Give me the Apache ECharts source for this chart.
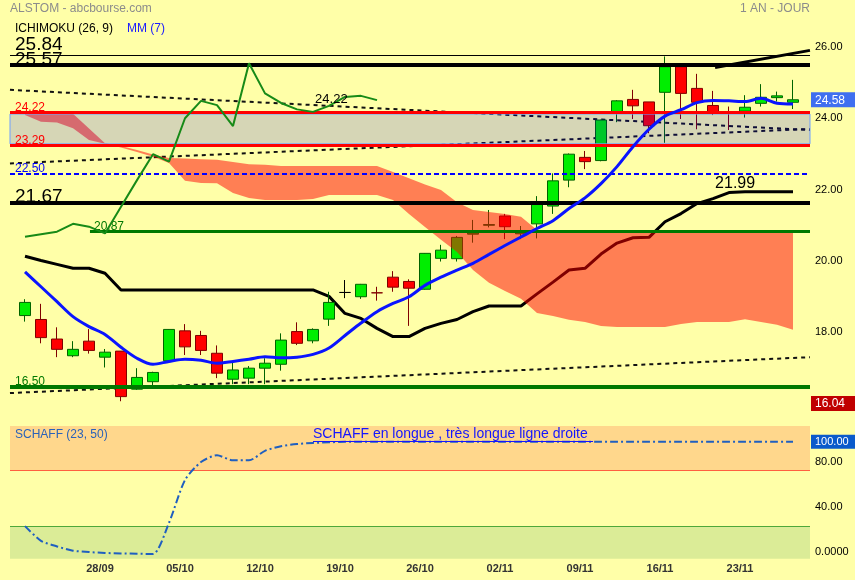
<!DOCTYPE html>
<html>
<head>
<meta charset="utf-8">
<script src="https://cdn.jsdelivr.net/npm/echarts@6/dist/echarts.min.js"></script>
<style>html,body{margin:0;padding:0;background:#ffffa8}#c{width:855px;height:580px}</style>
</head>
<body>
<div id="c"></div>
<script>
// ---------- data ----------
const dates = ['28/09','05/10','12/10','19/10','26/10','02/11','09/11','16/11','23/11'];
const dateIdx = [5,10,15,20,25,30,35,40,45];

const opens  = [18.51,18.40,17.85,17.38,17.79,17.34,17.51,16.44,16.65,17.24, 18.08,17.95,17.45,16.72,16.75,17.03,17.14,18.06,17.80,18.41, 19.16,19.04,19.15,19.59,19.47,19.25,20.12,20.11,20.80,21.05, 21.31,20.81,21.09,21.59,22.32,22.96,22.87,24.24,24.59,24.52, 24.79,25.51,24.90,24.42,24.22,24.26,24.48,24.64,24.51];
const closes = [18.88,17.89,17.56,17.56,17.53,17.48,16.23,16.77,16.91,18.12, 17.63,17.53,16.89,16.98,17.03,17.17,17.82,17.73,18.12,18.88, 19.16,19.39,19.15,19.31,19.28,20.26,20.35,20.71,20.83,21.07, 21.01,20.84,21.64,22.30,23.05,22.84,24.01,24.55,24.41,23.85, 25.51,24.76,24.51,24.24,24.22,24.37,24.65,24.69,24.58];
const lows   = [18.34,17.73,17.34,17.34,17.44,17.05,16.10,16.42,16.46,17.22, 17.40,17.40,16.75,16.58,16.58,16.58,16.96,17.68,17.73,18.22, 19.00,18.98,18.93,19.18,18.22,19.24,20.03,20.03,20.56,20.99, 20.66,20.66,20.68,21.37,22.12,22.63,22.85,23.95,24.04,23.64, 23.37,24.04,23.75,24.15,23.73,24.08,24.39,24.53,24.32];
const highs  = [18.97,18.84,18.18,17.79,18.13,17.57,17.51,17.03,16.93,18.13, 18.27,18.08,17.67,17.21,17.09,17.31,18.01,18.32,18.15,19.18, 19.51,19.40,19.32,19.76,19.53,20.27,20.50,20.75,21.20,21.48, 21.37,21.03,21.87,22.51,23.07,23.14,24.02,24.57,24.86,24.52, 25.80,25.52,25.31,24.83,24.39,24.71,25.02,24.81,25.14];

const mm7 = [19.74,19.32,18.90,18.48,18.20,17.98,17.62,17.31,17.14,17.22, 17.28,17.25,17.17,17.22,17.28,17.35,17.32,17.34,17.42,17.60, 17.95,18.30,18.62,18.85,19.04,19.36,19.59,19.79,19.98,20.23, 20.48,20.72,20.96,21.18,21.52,21.82,22.22,22.70,23.26,23.75, 24.12,24.30,24.50,24.56,24.55,24.53,24.62,24.48,24.46];
const kijun = [20.18,20.06,19.95,19.84,19.84,19.70,19.23,19.23,19.23,19.23, 19.23,19.23,19.23,19.23,19.23,19.23,19.23,19.23,19.23,19.05, 18.57,18.43,18.15,17.92,17.92,18.15,18.29,18.40,18.62,18.78, 18.78,18.78,19.12,19.45,19.79,19.84,20.24,20.55,20.70,20.71, 21.15,21.38,21.66,21.80,21.97,21.99,21.99,21.99,21.99];
const chikou = [20.73,20.80,20.87,21.09,21.01,20.82,21.57,22.32,23.05,22.84, 24.06,24.55,24.43,23.84,25.61,24.76,24.49,24.31,24.24,24.41, 24.66,24.69,24.57];
const kumoTop = [24.19,24.19,24.19,24.19,23.77,23.36,23.28,23.17,23.04,22.94, 22.93,22.91,22.89,22.83,22.77,22.75,22.72,22.72,22.72,22.72, 22.72,22.72,22.72,22.55,22.37,22.20,22.04,21.70,21.48,21.42, 21.37,21.29,20.92,20.86,20.86,20.86,20.86,20.86,20.86,20.86, 20.86,20.86,20.86,20.86,20.86,20.86,20.86,20.86,20.86];
const kumoBottom = [24.15,23.96,23.94,23.78,23.45,23.34,23.24,23.11,22.98,22.80, 22.30,22.24,22.23,21.96,21.82,21.76,21.76,21.76,21.79,21.90, 21.90,21.90,21.90,21.76,21.37,21.00,20.64,20.30,19.79,19.43, 19.20,18.98,18.58,18.50,18.39,18.33,18.22,18.19,18.19,18.19, 18.19,18.27,18.33,18.33,18.33,18.41,18.33,18.25,18.11];

const schaff = [25,12,7,3.2,2,1.2,0.8,0.5,0.3,28, 66,82,88,83.5,83.5,92,96,98,99,99.5, 100,100,100,100,100,100,100,100,100,100, 100,100,100,100,100,100,100,100,100,100, 100,100,100,100,100,100,100,100,100];

const trendA = [[-0.94,24.86],[49.06,23.73]];
const trendB = [[-0.94,22.79],[49.06,23.76]];
const trendC = [[-0.94,16.33],[49.06,17.34]];
const trendD = [[43.13,25.49],[49.06,25.97]];

const levels = [25.84, 25.57, 24.22, 23.29, 22.50, 21.67, 20.87, 16.50];
const zoneBand = [23.34, 24.18];
const greenLineStart = 4.06;
const lowMark = 16.04;
const priceTicks = [16.04, 18, 20, 22, 24, 24.58, 26];
const schaffTicks = [0, 40, 80, 100];
const schaffBands = [25, 75];
const kijunLabel = {x: 43.13, y: 22.21, text: '21.99'};
const chikouLabel = {x: 18.13, y: 24.59, text: '24.22'};

// ---------- chart ----------
const FONT = 'Liberation Sans, Arial, sans-serif';
const X0 = -0.9375, X1 = 49.0625;
const lastClose = closes[closes.length - 1];
const near = (a, b) => Math.abs(a - b) < 1e-6;

const candleData = opens.map((o, i) => {
  const item = {value: [i, o, closes[i], lows[i], highs[i]]};
  if (i === 20) item.itemStyle = {borderColor: '#000', borderColor0: '#000'};
  if (i === 22) item.itemStyle = {borderColor: '#800000', borderColor0: '#800000'};
  return item;
});
const pair = arr => arr.map((v, i) => [i, v]);

function hline(val, color, width, type, labelOpt) {
  return {
    yAxis: val,
    lineStyle: {color, width, type},
    label: Object.assign({show: true, position: 'insideStartTop', formatter: val.toFixed(2), color, fontFamily: FONT}, labelOpt)
  };
}

const priceLines = [
  hline(levels[0], '#000', 1, 'solid', {fontSize: 19, distance: [5, 1]}),
  hline(levels[1], '#000', 4, 'solid', {fontSize: 19, distance: [5, -5]}),
  hline(levels[2], '#ff0000', 3, 'solid', {fontSize: 12, distance: [5, -1]}),
  hline(levels[3], '#ff0000', 3, 'solid', {fontSize: 12, distance: [5, -1]}),
  hline(levels[4], '#0000ff', 2, [5, 3], {fontSize: 12, distance: [5, -1]}),
  hline(levels[5], '#000', 4, 'solid', {fontSize: 19, distance: [5, -3]}),
  [
    {coord: [greenLineStart, levels[6]], lineStyle: {color: '#007800', width: 3, type: 'solid'},
     label: {show: true, position: 'insideStartTop', formatter: levels[6].toFixed(2), color: '#007800', fontSize: 12, distance: [4, -1]}},
    {coord: [X1, levels[6]]}
  ],
  hline(levels[7], '#007800', 4, 'solid', {fontSize: 12, distance: [5, -1]})
];

const axisHidden = {axisLine: {show: false}, axisTick: {show: false}, splitLine: {show: false}};

const option = {
  backgroundColor: '#ffffa8',
  animation: false,
  textStyle: {fontFamily: FONT},
  grid: [
    {left: 10, right: 45, top: 40, height: 372, containLabel: false, outerBoundsMode: 'none'},
    {left: 10, right: 45, top: 426, height: 132.7, containLabel: false, outerBoundsMode: 'none'}
  ],
  xAxis: [
    {type: 'value', gridIndex: 0, min: X0, max: X1, show: false},
    Object.assign({type: 'value', gridIndex: 1, min: X0, max: X1,
      axisLabel: {customValues: dateIdx, formatter: v => dates[dateIdx.indexOf(Math.round(v))] || '',
        fontSize: 11, fontWeight: 'bold', color: '#333', margin: 5, padding: [0, 10, 0, 0]}}, axisHidden)
  ],
  yAxis: [
    Object.assign({type: 'value', gridIndex: 0, position: 'right', min: 15.7975, max: 26.2616,
      axisLabel: {customValues: priceTicks, margin: 1,
        formatter: v => near(v, lastClose) ? '{cur|' + v.toFixed(2) + '}' : near(v, lowMark) ? '{low|' + v.toFixed(2) + '}' : '{n|' + v.toFixed(2) + '}',
        rich: {
          n: {color: '#000', fontSize: 11, padding: [0, 4, 4, 4]},
          cur: {color: '#fff', fontSize: 12, backgroundColor: '#3f6ff0', padding: [2, 12, 1, 4]},
          low: {color: '#fff', fontSize: 12, backgroundColor: '#c00000', padding: [2, 12, 1, 4]}
        }}}, axisHidden),
    Object.assign({type: 'value', gridIndex: 1, position: 'right', min: -3.91, max: 114.04,
      axisLabel: {customValues: schaffTicks, margin: 1,
        formatter: v => v === 100 ? '{hl|100.00}' : v === 0 ? '{n|0.0000}' : '{n|' + v.toFixed(2) + '}',
        rich: {
          n: {color: '#000', fontSize: 11, padding: [0, 4, 4, 4]},
          hl: {color: '#fff', fontSize: 11, backgroundColor: '#0a5acb', padding: [2, 12, 1, 4]}
        }}}, axisHidden)
  ],
  markLine: {z: 5},
  markArea: {z: 4},
  markPoint: {z: 7},
  graphic: [
    {type: 'text', z: 20, x: 10, y: 9, style: {text: 'ALSTOM - abcbourse.com', fill: '#8c8c8c', fontSize: 12, fontFamily: FONT, verticalAlign: 'middle'}},
    {type: 'text', z: 20, x: 810, y: 9, style: {text: '1 AN - JOUR', fill: '#8c8c8c', fontSize: 12, fontFamily: FONT, align: 'right', verticalAlign: 'middle'}},
    {type: 'text', z: 20, x: 15, y: 28.5, style: {text: 'ICHIMOKU (26, 9)', fill: '#000', fontSize: 12, fontFamily: FONT, verticalAlign: 'middle'}},
    {type: 'text', z: 20, x: 127, y: 28.5, style: {text: 'MM (7)', fill: '#1a1aff', fontSize: 12, fontFamily: FONT, verticalAlign: 'middle'}},
    {type: 'text', z: 20, x: 15, y: 435, style: {text: 'SCHAFF (23, 50)', fill: '#2a62b8', fontSize: 12, fontFamily: FONT, verticalAlign: 'middle'}},
    {type: 'text', z: 20, x: 313, y: 434.5, style: {text: 'SCHAFF en longue , très longue ligne droite', fill: '#1414ff', fontSize: 14, fontFamily: FONT, verticalAlign: 'middle'}},
    {type: 'line', z: 20, shape: {x1: 313, y1: 441.5, x2: 593, y2: 441.5}, style: {stroke: '#1414ff', lineWidth: 1}}
  ],
  series: [
    {
      type: 'candlestick', name: 'ALSTOM', xAxisIndex: 0, yAxisIndex: 0, z: 2, barWidth: 12,
      itemStyle: {color: '#00ee00', color0: '#ff0000', borderColor: '#006400', borderColor0: '#800000', borderWidth: 1},
      data: candleData,
      markLine: {silent: true, symbol: 'none', data: priceLines},
      markArea: {silent: true, data: [[
        {yAxis: zoneBand[1], itemStyle: {color: 'rgba(0,0,255,0.16)', borderColor: '#6f9fff', borderWidth: 1}},
        {yAxis: zoneBand[0]}
      ]]}
    },
    {type: 'line', name: 'kijun', xAxisIndex: 0, yAxisIndex: 0, z: 2, data: pair(kijun), symbol: 'none',
     lineStyle: {color: '#000', width: 3},
     markPoint: {silent: true, symbol: 'circle', symbolSize: 0, data: [{coord: [kijunLabel.x, kijunLabel.y],
       label: {show: true, position: 'right', distance: 0, formatter: kijunLabel.text, fontSize: 16, color: '#000'}}]}},
    {type: 'line', xAxisIndex: 0, yAxisIndex: 0, z: 2, data: trendA, symbol: 'none', lineStyle: {color: '#111', width: 2, type: [4, 4]}},
    {type: 'line', xAxisIndex: 0, yAxisIndex: 0, z: 2, data: trendB, symbol: 'none', lineStyle: {color: '#111', width: 2, type: [4, 4]}},
    {type: 'line', xAxisIndex: 0, yAxisIndex: 0, z: 2, data: trendC, symbol: 'none', lineStyle: {color: '#111', width: 2, type: [4, 4]}},
    {type: 'line', xAxisIndex: 0, yAxisIndex: 0, z: 5, data: trendD, symbol: 'none', lineStyle: {color: '#000', width: 3}},
    {
      type: 'custom', name: 'kumo', xAxisIndex: 0, yAxisIndex: 0, z: 3, silent: true,
      data: kumoTop.map((t, i) => [i, kumoBottom[i], t]),
      encode: {x: 0, y: [1, 2]},
      renderItem: (params, api) => {
        if (params.dataIndex !== 0) return null;
        const pts = [];
        for (let i = 0; i < kumoTop.length; i++) pts.push(api.coord([i, kumoTop[i]]));
        for (let i = kumoBottom.length - 1; i >= 0; i--) pts.push(api.coord([i, kumoBottom[i]]));
        return {type: 'polygon', shape: {points: pts}, style: {fill: 'rgba(255,0,0,0.5)'}};
      }
    },
    {type: 'line', name: 'chikou', xAxisIndex: 0, yAxisIndex: 0, z: 6, data: pair(chikou), symbol: 'none',
     lineStyle: {color: '#178a17', width: 2},
     markPoint: {silent: true, symbol: 'circle', symbolSize: 0, data: [{coord: [chikouLabel.x, chikouLabel.y],
       label: {show: true, position: 'right', distance: 0, formatter: chikouLabel.text, fontSize: 13, color: '#000'}}]}},
    {type: 'line', name: 'MM7', xAxisIndex: 0, yAxisIndex: 0, z: 6, data: pair(mm7), symbol: 'none', smooth: 0.3,
     lineStyle: {color: '#0a14ff', width: 3}},
    {
      type: 'line', name: 'SCHAFF', xAxisIndex: 1, yAxisIndex: 1, z: 6, data: pair(schaff), symbol: 'none', smooth: 0.25,
      lineStyle: {color: '#1f5fc0', width: 2, type: [8, 3, 2, 3]},
      markArea: {silent: true, data: [
        [{yAxis: schaffBands[1], itemStyle: {color: '#ffd78c'}}, {yAxis: 114.04}],
        [{yAxis: -3.91, itemStyle: {color: '#dbec97'}}, {yAxis: schaffBands[0]}]
      ]},
      markLine: {silent: true, symbol: 'none', label: {show: false}, data: [
        {yAxis: schaffBands[1], lineStyle: {color: '#ff6040', width: 1, type: 'solid'}},
        {yAxis: schaffBands[0], lineStyle: {color: '#4ea83a', width: 1, type: 'solid'}}
      ]}
    }
  ]
};

const chart = echarts.init(document.getElementById('c'), null, {renderer: 'canvas'});
chart.setOption(option);
</script>
</body>
</html>
